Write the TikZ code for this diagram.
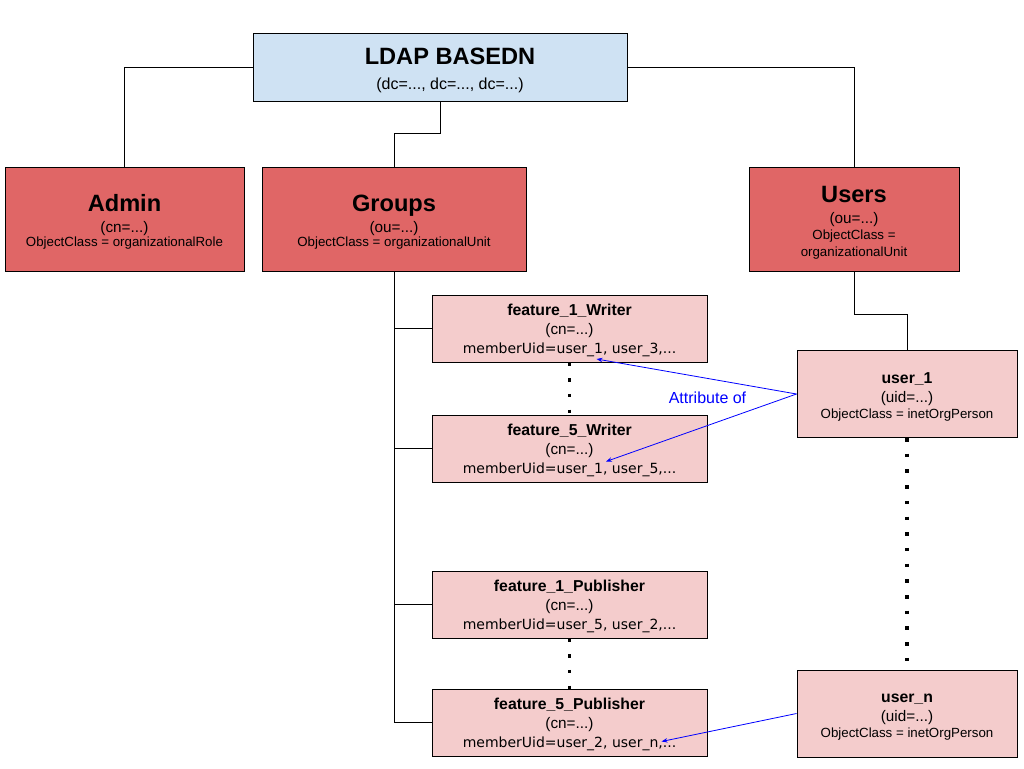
\documentclass[tikz,border=0pt]{standalone}
\usepackage{fontspec}
\setmainfont{Liberation Sans}
\newfontfamily\memfont{DejaVu Sans}
\usetikzlibrary{arrows.meta}

\definecolor{basecol}{HTML}{CFE2F3}
\definecolor{oucol}{HTML}{E06666}
\definecolor{entcol}{HTML}{F4CCCC}

% one macro per kind of text line
\newcommand{\topname}{\fontsize{23.6}{26}\selectfont\bfseries\rule{0pt}{23pt}}
\newcommand{\rdn}{\fontsize{15.3}{18}\selectfont}
\newcommand{\subname}{\fontsize{15.8}{18}\selectfont\bfseries\rule{0pt}{16pt}}
\newcommand{\members}{\fontsize{14}{18}\selectfont\memfont}
% font of a box, with a fixed distance between baselines
\newcommand{\boxfont}[2]{\fontsize{#1}{#2}\selectfont\lineskiplimit=-100pt}

\tikzset{
    box/.style={draw=black, line width=1pt, align=center, inner sep=0pt},
    basebox/.style={box, fill=basecol, minimum width=374pt, minimum height=67pt, font=\boxfont{16}{25}},
    oubox/.style={box, fill=oucol, minimum height=104pt, font=\boxfont{13.3}{13.5}},
    grpbox/.style={box, fill=entcol, minimum width=275pt, minimum height=67pt, font=\boxfont{15.3}{19}},
    usrbox/.style={box, fill=entcol, minimum width=220pt, minimum height=87pt, font=\boxfont{13.3}{16}},
    tree/.style={draw=black, line width=0.8pt},
    dots/.style={draw=black, line width=3.5pt, dash pattern=on 3.5pt off 12.2pt},
    attr/.style={draw=blue, line width=0.8pt, -{Stealth[length=6pt,width=4.5pt]}}
}

\begin{document}
\begin{tikzpicture}[x=1pt, y=-1pt]
    \useasboundingbox (0,0) rectangle (1024,768);

    % base of the directory
    \node[basebox] (base) at (440,67.5) {{\topname\hspace*{20pt}LDAP BASEDN}\\\hspace*{20pt}(dc=..., dc=..., dc=...)};

    % first level entries
    \node[oubox, minimum width=239pt] (admin) at (124.5,219) {{\topname Admin}\\[7.5pt]{\rdn (cn=...)}\\ObjectClass = organizationalRole};
    \node[oubox, minimum width=264pt] (groups) at (394,219) {{\topname Groups}\\[7.5pt]{\rdn (ou=...)}\\ObjectClass = organizationalUnit};
    \node[oubox, minimum width=210pt, font=\boxfont{13.3}{16.5}] (users) at (854,219) {{\topname Users}\\[4.5pt]{\rdn (ou=...)}\\ObjectClass =\\organizationalUnit};

    % groups
    \node[grpbox] (fw1) at (569.5,328.5) {{\subname feature\_1\_Writer}\\(cn=...)\\{\members memberUid=user\_1, user\_3,...}};
    \node[grpbox] (fw5) at (569.5,448.5) {{\subname feature\_5\_Writer}\\(cn=...)\\{\members memberUid=user\_1, user\_5,...}};
    \node[grpbox] (fp1) at (569.5,604.5) {{\subname feature\_1\_Publisher}\\(cn=...)\\{\members memberUid=user\_5, user\_2,...}};
    \node[grpbox] (fp5) at (569.5,722.5) {{\subname feature\_5\_Publisher}\\(cn=...)\\{\members memberUid=user\_2, user\_n,...}};

    % users
    \node[usrbox] (user1) at (907,394) {{\subname user\_1}\\[3pt]{\rdn (uid=...)}\\ObjectClass = inetOrgPerson};
    \node[usrbox] (usern) at (907,713.5) {{\subname user\_n}\\[3pt]{\rdn (uid=...)}\\ObjectClass = inetOrgPerson};

    % tree lines
    \draw[tree] (base.west) -| (admin.north);
    \draw[tree] (base.south) -- ++(0,32) -| (groups.north);
    \draw[tree] (base.east) -| (users.north);
    \draw[tree] (groups.south) |- (fw1.west);
    \draw[tree] (groups.south) |- (fw5.west);
    \draw[tree] (groups.south) |- (fp1.west);
    \draw[tree] (groups.south) |- (fp5.west);
    \draw[tree] (users.south) -- ++(0,43) -| (user1.north);

    % more entries left out
    \draw[dots] (fw1.south) -- (fw5.north);
    \draw[dots] (fp1.south) -- (fp5.north);
    \draw[dots] (user1.south) -- (usern.north);

    % memberUid values
    \coordinate (m1) at (596.5,359);
    \coordinate (m5) at (606,461.5);
    \coordinate (mn) at (661.5,741.5);
    \draw[attr] (user1.west) -- (m1);
    \draw[attr] (user1.west) -- (m5);
    \draw[attr] (usern.west) -- (mn);
    \node[text=blue, font=\fontsize{16}{18}\selectfont] (attrof) at (707.5,398) {Attribute of};
\end{tikzpicture}
\end{document}
